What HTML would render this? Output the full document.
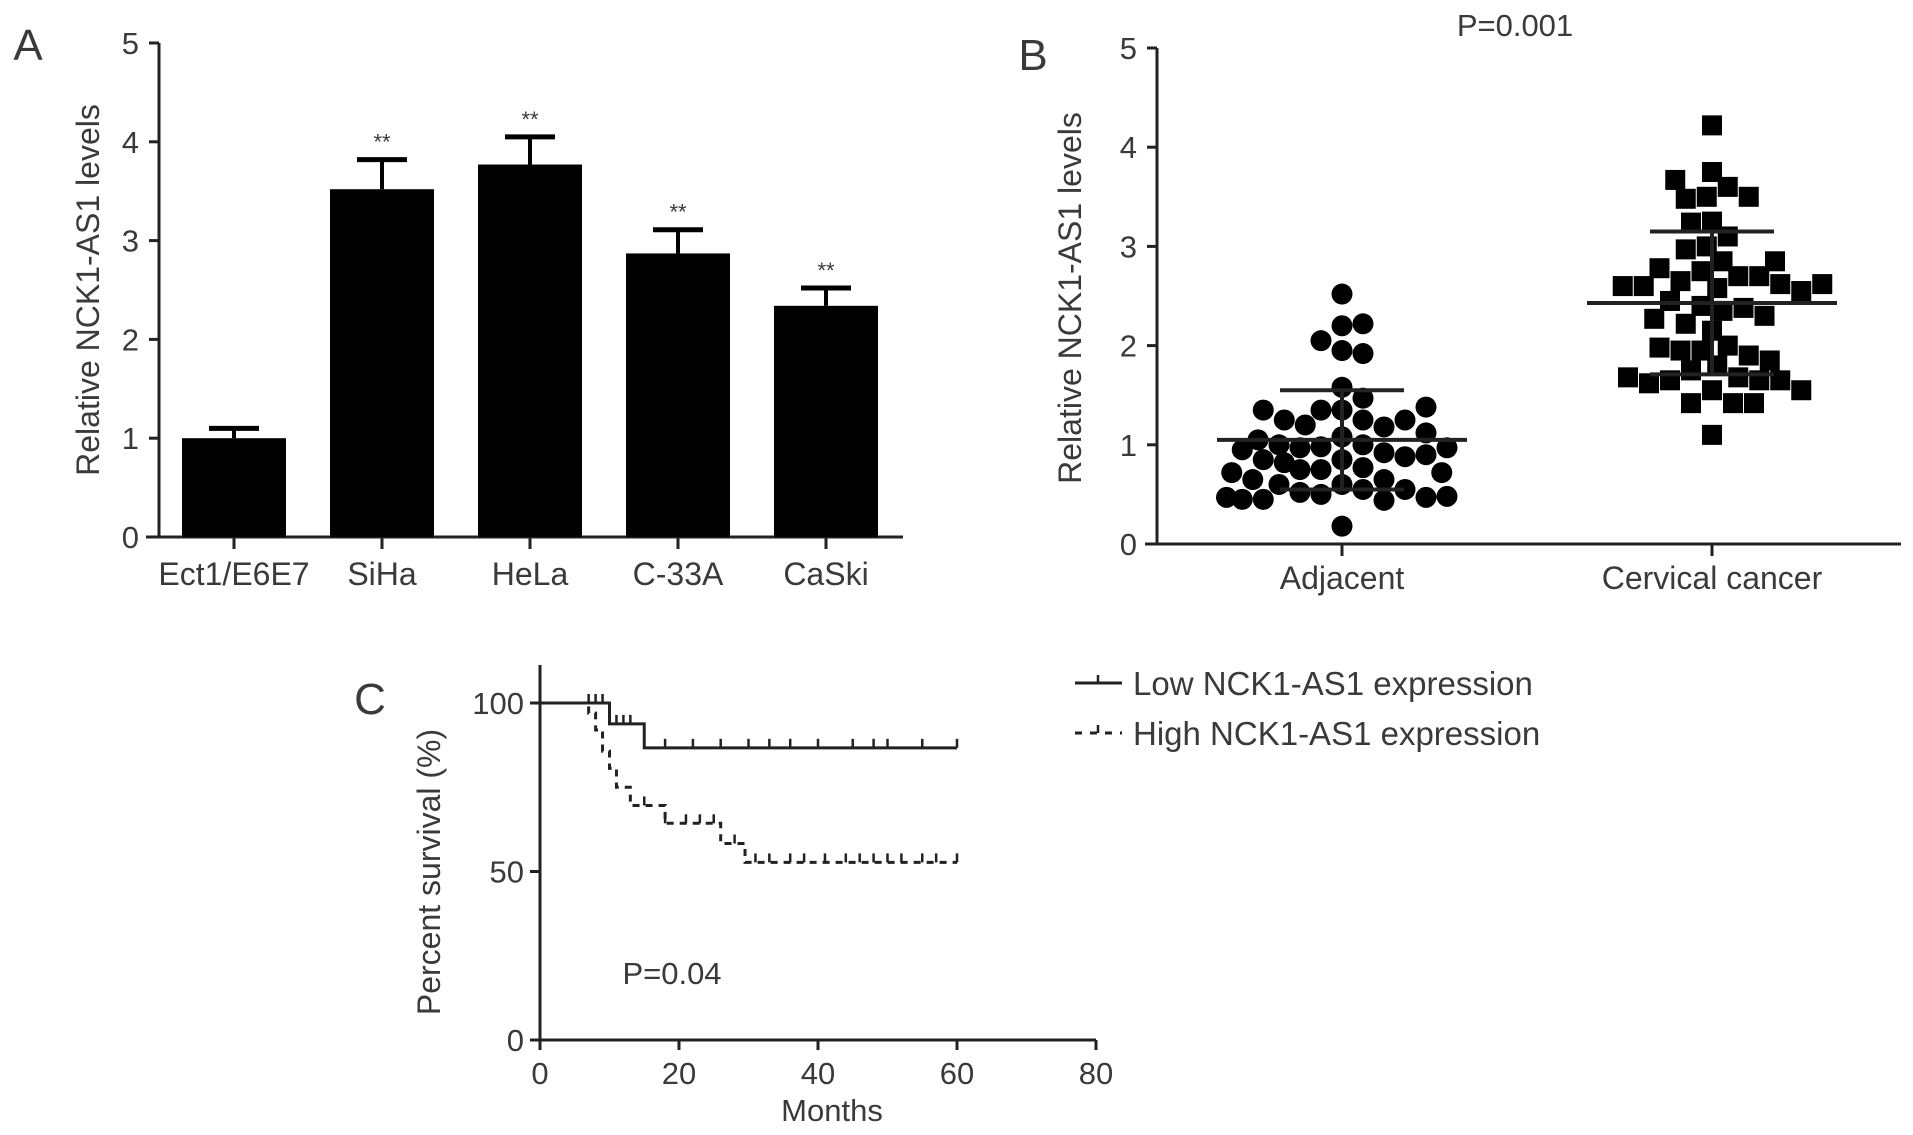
<!DOCTYPE html>
<html><head><meta charset="utf-8"><style>
html,body{margin:0;padding:0;background:#fff;}
svg{display:block;font-family:"Liberation Sans",sans-serif;}
text{fill:#3a3a3a;}
</style></head><body>
<svg id="fig" width="1913" height="1135" viewBox="0 0 1913 1135" xmlns="http://www.w3.org/2000/svg"></svg>
<script>
// ---------- Panel A data ----------
const barCategories = ["Ect1/E6E7","SiHa","HeLa","C-33A","CaSki"];
const barValues = [1.0, 3.52, 3.77, 2.87, 2.34];
const barErrors = [0.1, 0.3, 0.28, 0.24, 0.18];
const barSig = ["", "**", "**", "**", "**"];
const barTicks = [0,1,2,3,4,5];
// ---------- Panel B data ----------
const scatterGroups = ["Adjacent","Cervical cancer"];
const adjacentValues = [2.52,2.2,2.22,1.95,1.92,2.05,1.58,1.47,1.35,1.35,1.25,1.2,1.18,1.25,1.25,1.35,1.38,1.08,1.0,0.98,0.97,0.92,0.88,0.85,0.82,0.85,0.9,0.95,0.97,1.0,1.05,1.12,0.77,0.75,0.72,0.65,0.6,0.55,0.5,0.52,0.55,0.6,0.65,0.72,0.75,0.47,0.45,0.48,0.45,0.44,0.47,0.18];
const cancerValues = [4.22,3.75,3.6,3.5,3.48,3.5,3.67,3.25,3.1,3.24,3.0,2.97,2.85,2.75,2.7,2.65,2.7,2.78,2.85,2.62,2.58,2.6,2.55,2.6,2.62,2.4,2.35,2.38,2.45,2.3,2.27,2.22,2.15,2.0,1.95,1.95,1.9,1.98,1.85,1.8,1.75,1.68,1.65,1.65,1.62,1.65,1.68,1.55,1.42,1.42,1.42,1.55,1.1];
const groupMeans = [1.05, 2.43];
const groupSD = [0.5, 0.72];
const scatterTicks = [0,1,2,3,4,5];
// ---------- Panel C data ----------
const lowTimes = [0,10,15,60];
const lowSurv = [100,93.8,86.7,86.7];
const lowCensor = [7,8,9,11,12,13,18,22,26,30,33,36,40,45,48,50,55,60];
const highTimes = [0,7,8,9,10,11,13,18,26,29.5,60];
const highSurv = [100,97,92,85.7,80.6,75,69.6,64.3,58.3,52.7,52.7];
const highCensor = [15,18,21,23,25,28,31,33,36,38,41,44,46,48,50,52,55,57,60];
const kmXTicks = [0,20,40,60,80];
const kmYTicks = [0,50,100];

const NS="http://www.w3.org/2000/svg";
const svg=document.getElementById('fig');
function mk(tag,attrs,parent){const e=document.createElementNS(NS,tag);for(const k in attrs)e.setAttribute(k,attrs[k]);(parent||svg).appendChild(e);return e;}
function txt(s,x,y,size,anchor,parent){const t=mk('text',{x:x,y:y,'font-size':size,'text-anchor':anchor||'middle'},parent);t.textContent=s;return t;}

// ================= Panel A =================
const gA=mk('g',{});


const aX0=159, aY0=537, aY5=43, aXEnd=903;
const ayS=v=>aY0-(aY0-aY5)*v/5;
const axS=i=>234+i*148;
let l=txt('A',28,60,44,'middle',gA);


mk('line',{x1:aX0,y1:aY5,x2:aX0,y2:aY0+1,stroke:'#222','stroke-width':3},gA);
mk('line',{x1:146,y1:aY0,x2:aXEnd,y2:aY0,stroke:'#222','stroke-width':3},gA);
barTicks.forEach(v=>{
  mk('line',{x1:aX0-10,y1:ayS(v),x2:aX0,y2:ayS(v),stroke:'#222','stroke-width':3},gA);
  const t=txt(String(v),aX0-20,ayS(v)+11,31,'end',gA);
  
  
});
barCategories.forEach((c,i)=>{
  const x=axS(i), w=104;
  const b=mk('rect',{x:x-w/2,y:ayS(barValues[i]),width:w,height:aY0-ayS(barValues[i]),fill:'#000'},gA);
  
  
  const top=ayS(barValues[i]+barErrors[i]);
  mk('line',{x1:x,y1:ayS(barValues[i]),x2:x,y2:top,stroke:'#000','stroke-width':4},gA);
  const cap=mk('line',{x1:x-25,y1:top,x2:x+25,y2:top,stroke:'#000','stroke-width':5},gA);
  
  
  if(barSig[i]){const s=txt(barSig[i],x,top-10,22,'middle',gA);
    
    }
  mk('line',{x1:x,y1:aY0,x2:x,y2:aY0+12,stroke:'#222','stroke-width':3},gA);
  const t=txt(c,x,585,32,'middle',gA);
  
  
});
let ta=txt('Relative NCK1-AS1 levels',0,0,32,'middle',gA);
ta.setAttribute('transform','translate(99,290) rotate(-90)');



// ================= Panel B =================
const gB=mk('g',{});


const bX0=1157,bY0=544,bY5=48,bXEnd=1901;
const byS=v=>bY0-(bY0-bY5)*v/5;
const bxC=[1342,1712];
l=txt('B',1033,70,44,'middle',gB);


l=txt('P=0.001',1515,36,31,'middle',gB);


mk('line',{x1:bX0,y1:bY5,x2:bX0,y2:bY0+1,stroke:'#222','stroke-width':3},gB);
mk('line',{x1:1145,y1:bY0,x2:bXEnd,y2:bY0,stroke:'#222','stroke-width':3},gB);
scatterTicks.forEach(v=>{
  mk('line',{x1:bX0-10,y1:byS(v),x2:bX0,y2:byS(v),stroke:'#222','stroke-width':3},gB);
  const t=txt(String(v),bX0-20,byS(v)+11,31,'end',gB);
  
  
});
function swarm(vals,cx,d,maxOff){
  const placed=[];
  vals.forEach(v=>{
    const y=byS(v);let best=null,bestScore=1e9;
    for(let k=0;k<200;k++){
      const off=(k%2?1:-1)*Math.ceil(k/2)*d*0.25;
      if(Math.abs(off)>maxOff)break;
      let minD=1e9;placed.forEach(p=>{minD=Math.min(minD,Math.hypot(p.x-(cx+off),p.y-y));});
      if(minD>=d){best=cx+off;break;}
      const score=-minD;
      if(score<bestScore){bestScore=score;best=cx+off;}
    }
    placed.push({x:best===null?cx:best,y:y,v:v});
  });
  return placed;
}
swarm(adjacentValues,bxC[0],21,120).forEach(p=>{
  const c=mk('circle',{cx:p.x,cy:p.y,r:10.5,fill:'#000'},gB);
  
  
});
swarm(cancerValues,bxC[1],21,120).forEach(p=>{
  const c=mk('rect',{x:p.x-10,y:p.y-10,width:20,height:20,fill:'#000'},gB);
  
  
});
scatterGroups.forEach((g,i)=>{
  const cx=bxC[i],m=groupMeans[i],s=groupSD[i];
  const ml=mk('line',{x1:cx-125,y1:byS(m),x2:cx+125,y2:byS(m),stroke:'#222','stroke-width':4},gB);
  
  
  mk('line',{x1:cx,y1:byS(m-s),x2:cx,y2:byS(m+s),stroke:'#222','stroke-width':4},gB);
  mk('line',{x1:cx-62,y1:byS(m+s),x2:cx+62,y2:byS(m+s),stroke:'#222','stroke-width':4},gB);
  mk('line',{x1:cx-62,y1:byS(m-s),x2:cx+62,y2:byS(m-s),stroke:'#222','stroke-width':4},gB);
  mk('line',{x1:cx,y1:bY0,x2:cx,y2:bY0+12,stroke:'#222','stroke-width':3},gB);
  const t=txt(g,cx,589,32,'middle',gB);
  
  
});
let tb=txt('Relative NCK1-AS1 levels',0,0,32,'middle',gB);
tb.setAttribute('transform','translate(1081,298) rotate(-90)');



// ================= Panel C =================
const gC=mk('g',{});


const cX0=540,cY0=1040,cY100=703;
const cxS=m=>cX0+m*139/20;
const cyS=p=>cY0-(cY0-cY100)*p/100;
l=txt('C',370,714,44,'middle',gC);


mk('line',{x1:cX0,y1:665,x2:cX0,y2:cY0,stroke:'#222','stroke-width':3},gC);
mk('line',{x1:cX0,y1:cY0,x2:cxS(80),y2:cY0,stroke:'#222','stroke-width':3},gC);
kmYTicks.forEach(v=>{
  mk('line',{x1:cX0-10,y1:cyS(v),x2:cX0,y2:cyS(v),stroke:'#222','stroke-width':3},gC);
  const t=txt(String(v),cX0-16,cyS(v)+11,31,'end',gC);
  
  
});
kmXTicks.forEach(v=>{
  mk('line',{x1:cxS(v),y1:cY0,x2:cxS(v),y2:cY0+10,stroke:'#222','stroke-width':3},gC);
  const t=txt(String(v),cxS(v),1084,31,'middle',gC);
  
  
});
function stepPath(ts,ss){
  let d='M'+cxS(ts[0])+','+cyS(ss[0]);
  for(let i=1;i<ts.length;i++){d+=' H'+cxS(ts[i])+' V'+cyS(ss[i]);}
  return d;
}
function survAt(ts,ss,t){let s=ss[0];for(let i=0;i<ts.length;i++){if(ts[i]<=t)s=ss[i];}return s;}
const lowP=mk('path',{d:stepPath(lowTimes,lowSurv),fill:'none',stroke:'#222','stroke-width':3},gC);


lowCensor.forEach(t=>{const y=cyS(survAt(lowTimes,lowSurv,t));
  mk('line',{x1:cxS(t),y1:y,x2:cxS(t),y2:y-9,stroke:'#222','stroke-width':2.5},gC);});
const highP=mk('path',{d:stepPath(highTimes,highSurv),fill:'none',stroke:'#222','stroke-width':3,'stroke-dasharray':'7,6'},gC);


highCensor.forEach(t=>{const y=cyS(survAt(highTimes,highSurv,t));
  mk('line',{x1:cxS(t),y1:y,x2:cxS(t),y2:y-9,stroke:'#222','stroke-width':2.5},gC);});
l=txt('P=0.04',672,984,31,'middle',gC);


l=txt('Months',832,1121,31,'middle',gC);


let tc=txt('Percent survival (%)',0,0,32,'middle',gC);
tc.setAttribute('transform','translate(440,872) rotate(-90)');


// legend
const lg=mk('g',{},gC);


mk('line',{x1:1075,y1:683,x2:1122,y2:683,stroke:'#222','stroke-width':3},lg);
mk('line',{x1:1098,y1:683,x2:1098,y2:675,stroke:'#222','stroke-width':2.5},lg);
let e1=txt('Low NCK1-AS1 expression',1133,695,33,'start',lg);


mk('line',{x1:1075,y1:733,x2:1122,y2:733,stroke:'#222','stroke-width':3,'stroke-dasharray':'7,8'},lg);
mk('line',{x1:1098,y1:733,x2:1098,y2:725,stroke:'#222','stroke-width':2.5},lg);
let e2=txt('High NCK1-AS1 expression',1133,745,33,'start',lg);


</script>
</body></html>
